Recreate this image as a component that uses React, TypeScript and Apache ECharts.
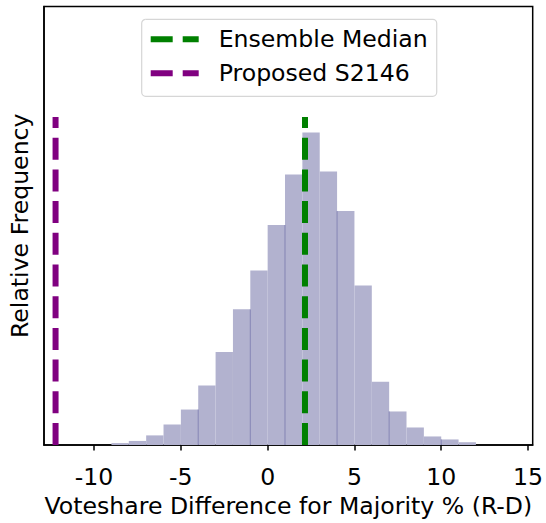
import React, { useEffect, useRef } from "react";
import * as echarts from "echarts";

// Histogram bins (left edges, width 1) and relative frequencies
const binStarts = [-9, -8, -7, -6, -5, -4, -3, -2, -1, 0, 1, 2, 3, 4, 5, 6, 7, 8, 9, 10, 11];
const binWidth = 1;
const frequencies = [
  0.0009, 0.0019, 0.0045, 0.0096, 0.0166, 0.0279, 0.0435, 0.0635, 0.0817, 0.103,
  0.1267, 0.1463, 0.1281, 0.1095, 0.0747, 0.0296, 0.0157, 0.0082, 0.004, 0.0026, 0.0013,
];
// bin edges where adjacent bars show a faint darker seam
const seamEdges = [-4, -1, 1, 4, 7, 10];
const ensembleMedian = 2.15;
const proposedValue = -12.22;
const xTicks = [-10, -5, 0, 5, 10, 15];
const xLabel = "Voteshare Difference for Majority % (R-D)";
const yLabel = "Relative Frequency";
const medianName = "Ensemble Median";
const proposedName = "Proposed S2146";

const FONT = "DejaVu Sans";
const FS = 23.6;
const DASH_ICON = "path://M0,0H22V6H0Z M32,0H48V6H32Z";

export default function App() {
  const ref = useRef<HTMLDivElement>(null);
  useEffect(() => {
    if (!ref.current) return;
    const chart = echarts.init(ref.current, null, { renderer: "svg" });
    const maxFreq = Math.max(...frequencies);
    const lineTop = maxFreq * 1.05;
    const histData = binStarts.map((s, i) => {
      const prev = i > 0 ? frequencies[i - 1] : 0;
      const seamH = seamEdges.includes(s) ? Math.min(prev, frequencies[i]) : 0;
      return [s, s + binWidth, frequencies[i], seamH];
    });
    chart.setOption({
      animation: false,
      backgroundColor: "#ffffff",
      textStyle: { fontFamily: FONT },
      grid: {
        left: 42,
        right: 8.5,
        top: 6.5,
        bottom: 75.3,
        show: true,
        borderColor: "#000",
        borderWidth: 1.5,
        backgroundColor: "transparent",
      },
      legend: {
        left: 141.7,
        top: 19.3,
        orient: "vertical",
        padding: [8, 9, 11, 9],
        itemGap: 10,
        itemWidth: 48,
        itemHeight: 6,
        backgroundColor: "#fff",
        borderColor: "#d6d6d6",
        borderWidth: 1.2,
        borderRadius: 4,
        textStyle: {
          fontFamily: FONT,
          fontSize: FS,
          color: "#000",
          padding: [0, 0, 0, 15],
          lineHeight: 24,
        },
        data: [
          { name: medianName, icon: DASH_ICON },
          { name: proposedName, icon: DASH_ICON },
        ],
      },
      xAxis: {
        type: "value",
        min: -12.886,
        max: 15.27,
        interval: 5,
        name: xLabel,
        nameLocation: "middle",
        nameGap: 49,
        nameTextStyle: { fontFamily: FONT, fontSize: FS, color: "#000" },
        splitLine: { show: false },
        axisLine: { show: true, onZero: false, lineStyle: { color: "#000", width: 1.5 } },
        axisTick: {
          show: true,
          length: 5.5,
          lineStyle: { color: "#000", width: 1.5 },
          customValues: xTicks,
        },
        axisLabel: {
          show: true,
          margin: 20,
          fontFamily: FONT,
          fontSize: FS,
          color: "#000",
          customValues: xTicks,
          formatter: (v: number) => String(v),
        },
      },
      yAxis: {
        type: "value",
        min: 0,
        max: 0.2053,
        name: yLabel,
        nameLocation: "middle",
        nameGap: 12,
        nameTextStyle: { fontFamily: FONT, fontSize: FS, color: "#000" },
        splitLine: { show: false },
        axisLine: { show: true, onZero: false, lineStyle: { color: "#000", width: 1.5 } },
        axisTick: { show: false },
        axisLabel: { show: false },
      },
      series: [
        {
          type: "custom",
          name: "hist",
          data: histData,
          encode: { x: [0, 1], y: 2 },
          renderItem: (params: any, api: any) => {
            const p0 = api.coord([api.value(0), api.value(2)]);
            const p1 = api.coord([api.value(1), 0]);
            const children: any[] = [
              {
                type: "rect",
                shape: { x: p0[0], y: p0[1], width: p1[0] - p0[0], height: p1[1] - p0[1] },
                style: { fill: "#b2b2cf", stroke: null },
              },
            ];
            const seamH = api.value(3);
            if (seamH > 0) {
              const s = api.coord([api.value(0), seamH]);
              children.push({
                type: "line",
                shape: { x1: p0[0], y1: s[1], x2: p0[0], y2: p1[1] },
                style: { stroke: "#8383b3", lineWidth: 1 },
              });
            }
            return { type: "group", children };
          },
          silent: true,
          z: 1,
        },
        {
          type: "line",
          name: medianName,
          data: [[ensembleMedian, 0], [ensembleMedian, lineTop]],
          symbol: "none",
          color: "#008000",
          itemStyle: { color: "#008000" },
          lineStyle: { color: "#008000", width: 6, type: [22, 9.7], cap: "butt" },
          z: 3,
        },
        {
          type: "line",
          name: proposedName,
          data: [[proposedValue, 0], [proposedValue, lineTop]],
          symbol: "none",
          color: "#800080",
          itemStyle: { color: "#800080" },
          lineStyle: { color: "#800080", width: 6, type: [22, 9.7], cap: "butt" },
          z: 3,
        },
      ],
    });
    return () => chart.dispose();
  }, []);
  return <div ref={ref} style={{ width: 546, height: 523, position: "absolute", left: 0, top: 0 }} />;
}
